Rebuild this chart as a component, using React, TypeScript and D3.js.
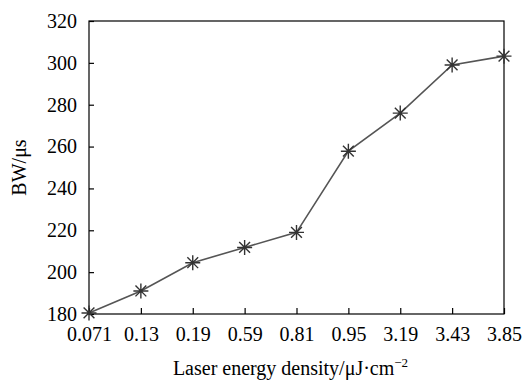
import React, { useEffect, useRef } from "react";
import * as d3 from "d3";

const categories = ["0.071", "0.13", "0.19", "0.59", "0.81", "0.95", "3.19", "3.43", "3.85"];
const bwValues = [180.5, 191, 204.5, 211.8, 219, 257.8, 276, 299, 303.2];
const yTicks = [180, 200, 220, 240, 260, 280, 300, 320];

const W = 524;
const H = 381;
const M = { left: 89, right: 20, top: 21, bottom: 67 };
const FONT = "Liberation Serif";

export default function App() {
  const ref = useRef<SVGSVGElement>(null);

  useEffect(() => {
    const svg = d3.select(ref.current);
    svg.selectAll("*").remove();
    const x = d3.scalePoint<string>().domain(categories).range([M.left, W - M.right]);
    const y = d3.scaleLinear().domain([180, 320]).range([H - M.bottom, M.top]);

    const g = svg.append("g").attr("font-family", FONT);

    g.append("rect")
      .attr("x", M.left)
      .attr("y", M.top)
      .attr("width", W - M.right - M.left)
      .attr("height", H - M.bottom - M.top)
      .attr("fill", "none")
      .attr("stroke", "#000")
      .attr("stroke-width", 1.2);

    const yAxis = d3.axisLeft(y).tickValues(yTicks).tickSizeInner(-5).tickSizeOuter(0).tickPadding(12).tickFormat(d3.format("d"));
    const ya = g.append("g").attr("transform", `translate(${M.left},0)`).call(yAxis);
    ya.attr("font-family", FONT).attr("font-size", 20);
    ya.select(".domain").remove();
    ya.selectAll("line").attr("stroke", "#000").attr("stroke-width", 1.2);
    ya.selectAll("text").attr("fill", "#000");

    const xAxis = d3.axisBottom(x).tickSizeInner(-6).tickSizeOuter(0).tickPadding(13);
    const xa = g.append("g").attr("transform", `translate(0,${H - M.bottom})`).call(xAxis);
    xa.attr("font-family", FONT).attr("font-size", 20);
    xa.select(".domain").remove();
    xa.selectAll("line").attr("stroke", "#000").attr("stroke-width", 1.2);
    xa.selectAll("text").attr("fill", "#000");

    const data = categories.map((c, i) => ({ c, v: bwValues[i] }));
    const line = d3.line<{ c: string; v: number }>().x((d) => x(d.c)!).y((d) => y(d.v));
    g.append("path")
      .datum(data)
      .attr("d", line)
      .attr("fill", "none")
      .attr("stroke", "#555")
      .attr("stroke-width", 1.6);

    const r = 7.5;
    const rd = r * 0.72;
    const star = `M${-r},0L${r},0M0,${-r}L0,${r}M${-rd},${-rd}L${rd},${rd}M${-rd},${rd}L${rd},${-rd}`;
    g.selectAll(".mk")
      .data(data)
      .enter()
      .append("path")
      .attr("class", "mk")
      .attr("transform", (d) => `translate(${x(d.c)},${y(d.v)})`)
      .attr("d", star)
      .attr("fill", "none")
      .attr("stroke", "#333")
      .attr("stroke-width", 1.4);

    const xt = g.append("text")
      .attr("x", (M.left + W - M.right) / 2 - 6)
      .attr("y", 375)
      .attr("text-anchor", "middle")
      .attr("font-size", 20)
      .attr("fill", "#000");
    xt.append("tspan").text("Laser energy density/\u03bcJ\u00b7cm");
    xt.append("tspan").attr("dy", -8).attr("font-size", 13).text("\u22122");

    g.append("text")
      .attr("transform", `translate(26,${(M.top + H - M.bottom) / 2}) rotate(-90)`)
      .attr("text-anchor", "middle")
      .attr("font-size", 20)
      .attr("fill", "#000")
      .text("BW/\u03bcs");
  }, []);

  return (
    <svg
      ref={ref}
      width={W}
      height={H}
      style={{ position: "absolute", left: 0, top: 0, background: "#fff" }}
    />
  );
}
